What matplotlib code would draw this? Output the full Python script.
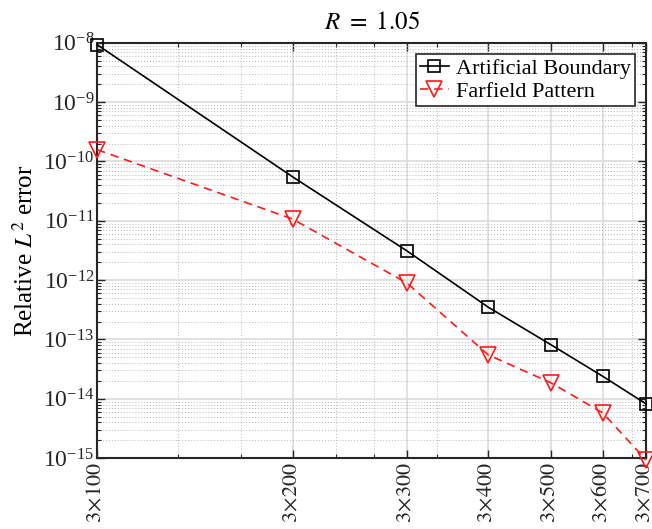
import numpy as np
import matplotlib.pyplot as plt
from matplotlib.ticker import FixedLocator, NullFormatter, LogLocator

plt.rcParams['font.family'] = ['Liberation Serif', 'DejaVu Serif']
plt.rcParams['mathtext.fontset'] = 'stix'

# number of points (3 x n)
n = [100, 200, 300, 400, 500, 600, 700]
x_labels = [r'$3\!\times\!%d$' % k for k in n]

# relative L2 errors
err_boundary = [9.3e-9, 5.5e-11, 3.1e-12, 3.5e-13, 8.1e-14, 2.4e-14, 8.2e-15]
err_farfield = [1.58e-10, 1.07e-11, 8.9e-13, 5.5e-14, 1.85e-14, 5.8e-15, 9.3e-16]

N = [3 * k for k in n]

fig = plt.figure(figsize=(6.52, 5.29), dpi=100)
ax = fig.add_axes([0.149, 0.134, 0.842, 0.785])

ax.loglog(N, err_boundary, 'k-s', mfc='none', ms=8.5, mew=1.2, lw=1.2,
          label='Artificial Boundary', clip_on=False, zorder=5)
ax.loglog(N, err_farfield, marker='v', ls=(0, (5, 3.5)), color='#ff1a1a',
          mfc='none', ms=11, mew=1.2, lw=1.2, label='Farfield Pattern',
          clip_on=False, zorder=5)

ax.set_xlim(300, 2100)
ax.set_ylim(1e-15, 1e-8)

ax.xaxis.set_major_locator(FixedLocator(N))
ax.set_xticklabels(x_labels, rotation=90, fontsize=16)
ax.xaxis.set_minor_locator(LogLocator(base=10, subs=np.arange(1, 10)))
ax.xaxis.set_minor_formatter(NullFormatter())

ax.yaxis.set_major_locator(LogLocator(base=10, numticks=20))
ax.yaxis.set_minor_locator(LogLocator(base=10, subs=np.arange(2, 10), numticks=20))
ax.yaxis.set_minor_formatter(NullFormatter())
ax.tick_params(axis='y', labelsize=17, pad=2)
ax.tick_params(axis='x', pad=3)

ax.tick_params(which='both', direction='in', top=True, right=True, colors='#262626')
ax.tick_params(which='major', length=6, width=1)
ax.tick_params(which='minor', length=3, width=0.8)

ax.grid(True, which='major', color='#dcdcdc', lw=1.2, ls='-')
ax.grid(True, which='minor', color='#b8b8b8', lw=0.7, ls=(0, (1, 2)))
ax.set_axisbelow(True)
for s in ax.spines.values():
    s.set_linewidth(1.5)
    s.set_color('#262626')

ax.set_title(r'$R\ =\ 1.05$', fontsize=18, pad=10)
ax.set_ylabel(r'Relative $L^2$ error', fontsize=18, labelpad=4)

leg = ax.legend(loc='upper right', fontsize=16, fancybox=False, framealpha=1,
                edgecolor='#262626', handlelength=1.3, handletextpad=0.3,
                borderpad=0.2, labelspacing=0.1, borderaxespad=0.5)
leg.get_frame().set_linewidth(1.2)

fig.savefig('out.png', dpi=100)
